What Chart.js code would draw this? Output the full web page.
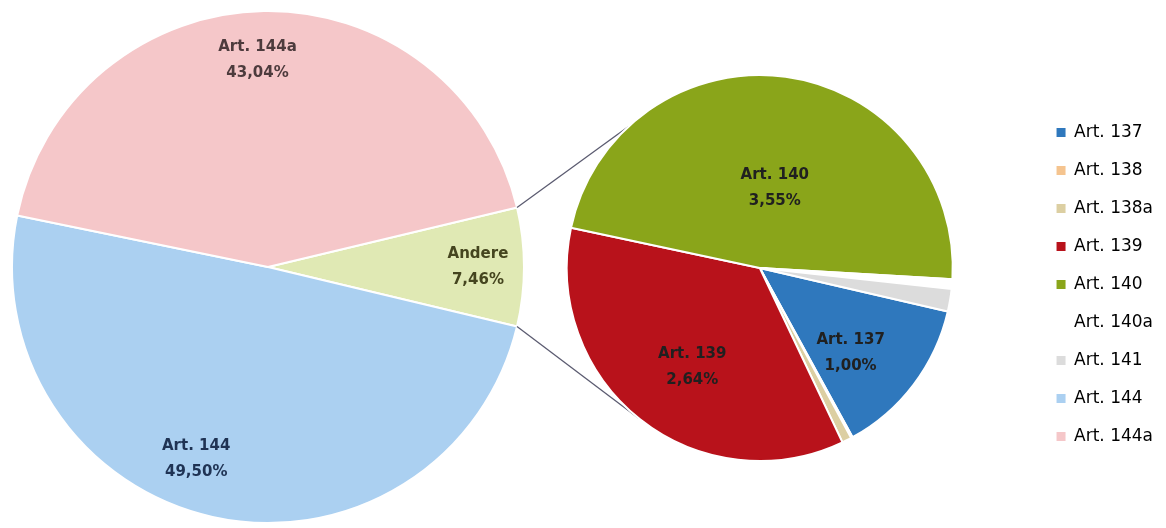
<!DOCTYPE html>
<html>
<head>
<meta charset="utf-8">
<script src="https://cdn.jsdelivr.net/npm/chart.js@4/dist/chart.umd.min.js"></script>
<style>
    body { margin: 0; background: #fff; }
    .wrap { position: relative; width: 1166px; height: 528px; }
    .wrap canvas { position: absolute; left: 0; top: 0; }
</style>
</head>
<body>
<div class="wrap">
    <canvas id="mainPie" width="1166" height="528"></canvas>
    <canvas id="subPie" width="1166" height="528"></canvas>
</div>
<script>
// main pie (Andere = sum of the small pie)
var mainLabels = ['Andere', 'Art. 144', 'Art. 144a'];
var mainValues = [7.46, 49.50, 43.04];
var mainColors = ['#e0e9b4', '#abd0f1', '#f5c7c9'];
var mainTextColors = ['#45451f', '#1f3354', '#4d3b3d'];
// [distance from centre as part of radius, angle shift in degrees]
var mainLabelPos = [[0.82, 0], [0.80, 8], [0.81, -2]];

// small pie
var subLabels = ['Art. 137', 'Art. 138', 'Art. 138a', 'Art. 139', 'Art. 140', 'Art. 140a', 'Art. 141'];
var subValues = [1.00, 0.01, 0.06, 2.64, 3.55, 0.06, 0.14];
var subColors = ['#2f78bd', '#f5c48f', '#dccfa2', '#b8121b', '#8aa51a', '#ffffff', '#dcdcdc'];
var subLabelPos = [[0.645, 6], null, null, [0.62, -4], [0.42, 3], null, null];

var FONT = '"DejaVu Sans", Verdana, sans-serif';

var fmtPct = function(v) {
    return v.toFixed(2).replace('.', ',') + '%';
};

// writes name + value inside the slices
var sliceLabels = {
    id: 'sliceLabels',
    afterDatasetsDraw: function(chart, args, opts) {
        var ctx = chart.ctx;
        var meta = chart.getDatasetMeta(0);
        var values = chart.data.datasets[0].data;
        ctx.save();
        ctx.font = 'bold 15px ' + FONT;
        ctx.textAlign = 'center';
        ctx.textBaseline = 'middle';
        meta.data.forEach(function(arc, i) {
            var pos = opts.pos[i];
            if (!pos) return;
            var p = arc.getProps(['x', 'y', 'startAngle', 'endAngle', 'outerRadius'], true);
            var mid = (p.startAngle + p.endAngle) / 2 + pos[1] * Math.PI / 180;
            var x = p.x + Math.cos(mid) * p.outerRadius * pos[0];
            var y = p.y + Math.sin(mid) * p.outerRadius * pos[0];
            ctx.fillStyle = opts.colors[i];
            ctx.fillText(chart.data.labels[i], x, y - 13);
            ctx.fillText(fmtPct(values[i]), x, y + 13);
        });
        ctx.restore();
    }
};

var mainChart = new Chart(document.getElementById('mainPie'), {
    type: 'pie',
    data: {
        labels: mainLabels,
        datasets: [{
            data: mainValues,
            backgroundColor: mainColors,
            borderColor: '#ffffff',
            borderWidth: 2,
            hoverOffset: 0,
            offset: 0
        }]
    },
    options: {
        responsive: false,
        animation: false,
        rotation: 90 - mainValues[0] / 100 * 360 / 2,
        layout: { padding: { left: 11, top: 10, right: 641, bottom: 4 } },
        plugins: {
            legend: { display: false },
            tooltip: { enabled: false },
            sliceLabels: { pos: mainLabelPos, colors: mainTextColors }
        }
    },
    plugins: [sliceLabels]
});

// lines from the Andere slice to the small pie
var connectors = {
    id: 'connectors',
    beforeDatasetsDraw: function(chart) {
        var andere = mainChart.getDatasetMeta(0).data[0];
        var a = andere.getProps(['x', 'y', 'startAngle', 'endAngle', 'outerRadius'], true);
        var b = chart.getDatasetMeta(0).data[0].getProps(['x', 'y', 'outerRadius'], true);
        var ends = [[a.startAngle, 317], [a.endAngle, 219]];
        var ctx = chart.ctx;
        ctx.save();
        ctx.strokeStyle = '#5b5b70';
        ctx.lineWidth = 1.3;
        ends.forEach(function(e) {
            var t = (e[1] - 90) * Math.PI / 180;
            ctx.beginPath();
            ctx.moveTo(a.x + Math.cos(e[0]) * a.outerRadius, a.y + Math.sin(e[0]) * a.outerRadius);
            ctx.lineTo(b.x + Math.cos(t) * b.outerRadius, b.y + Math.sin(t) * b.outerRadius);
            ctx.stroke();
        });
        ctx.restore();
    }
};

var legendLabels = subLabels.concat(mainLabels.slice(1));
var legendColors = subColors.concat(mainColors.slice(1));

var subChart = new Chart(document.getElementById('subPie'), {
    type: 'pie',
    data: {
        labels: subLabels,
        datasets: [{
            data: subValues,
            backgroundColor: subColors,
            borderColor: '#ffffff',
            borderWidth: 2,
            hoverOffset: 0,
            offset: 0
        }]
    },
    options: {
        responsive: false,
        animation: false,
        rotation: 103,
        radius: 193,
        layout: { padding: { left: 484, top: 70, right: 3, bottom: 62 } },
        plugins: {
            tooltip: { enabled: false },
            legend: {
                position: 'right',
                align: 'end',
                labels: {
                    boxWidth: 9,
                    boxHeight: 9,
                    padding: 21,
                    color: '#404040',
                    font: { family: FONT, size: 17 },
                    generateLabels: function() {
                        return legendLabels.map(function(l, i) {
                            return { text: l, fillStyle: legendColors[i], strokeStyle: legendColors[i], lineWidth: 0, hidden: false, index: i };
                        });
                    }
                }
            },
            sliceLabels: { pos: subLabelPos, colors: subLabels.map(function() { return '#202020'; }) }
        }
    },
    plugins: [connectors, sliceLabels]
});
</script>
</body>
</html>
